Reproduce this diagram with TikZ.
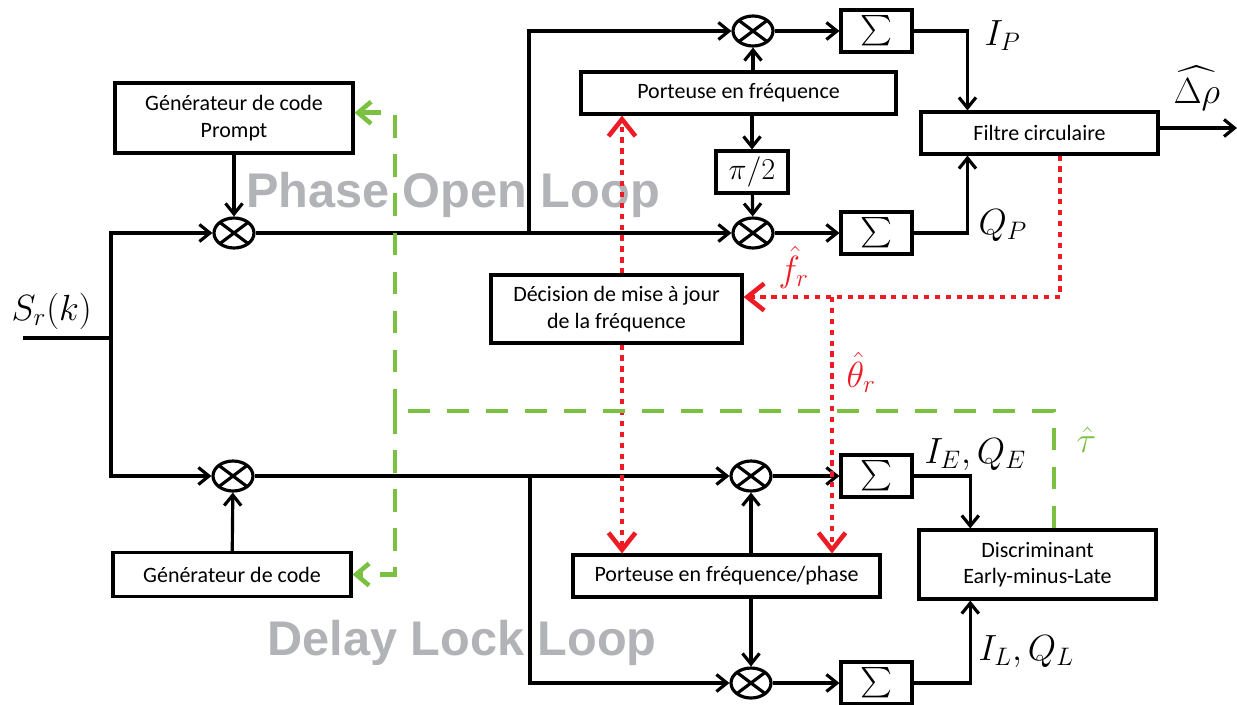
\documentclass[tikz,border=0pt]{standalone}
\usepackage{amsmath}
\usepackage[no-math]{fontspec}
\setmainfont{Carlito}
\newfontfamily\graylabelfont{Liberation Sans}
\usetikzlibrary{shapes.geometric,arrows.meta,positioning,calc}
\definecolor{looplabel}{RGB}{178,179,183}
\definecolor{freqred}{RGB}{237,28,36}
\definecolor{codegreen}{RGB}{122,193,66}
\newcommand{\boxfont}{\fontsize{12.5}{15}\selectfont}

\begin{document}
\begin{tikzpicture}[x=0.02cm, y=-0.02cm, line width=1.8pt,
    >={Straight Barb[length=2.1mm,width=3.4mm]},
    blk/.style={draw, rectangle, align=center, inner sep=0pt, font=\boxfont},
    mixer/.style={draw, ellipse, minimum width=0.8cm, minimum height=0.6cm, inner sep=0pt,
      path picture={\draw (path picture bounding box.north west) -- (path picture bounding box.south east)
        (path picture bounding box.south west) -- (path picture bounding box.north east);}},
    accu/.style={draw, rectangle, minimum width=1.42cm, minimum height=0.84cm, inner sep=0pt,
      font=\fontsize{18}{20}\selectfont},
    fbred/.style={freqred, line width=2.6pt, dash pattern=on 3pt off 3.2pt,
      -{Straight Barb[length=3.4mm,width=5.4mm]}},
    fbgreen/.style={codegreen, line width=2.6pt, dash pattern=on 12.8pt off 9.4pt},
    greentip/.style={-{Straight Barb[length=2.6mm,width=4.4mm]}},
    mlabel/.style={anchor=base west, inner sep=0pt, font=\fontsize{20}{24}\selectfont},
    looplbl/.style={anchor=base, inner sep=0pt, text=looplabel,
      font=\graylabelfont\bfseries\fontsize{27.7}{30}\selectfont}]
  \path[use as bounding box] (0,0) rectangle (1237,704);

  % Noms des boucles (en fond)
  \node[looplbl] (lblPOL) at (453,207) {Phase Open Loop};
  \node[looplbl] (lblDLL) at (462,655) {Delay Lock Loop};

  % Blocs
  \node[blk, minimum width=4.76cm, minimum height=1.4cm] (genP) at (234,118) {Générateur de code\\Prompt};
  \node[blk, minimum width=4.76cm, minimum height=0.88cm] (genD) at (232,574.5) {Générateur de code};
  \node[blk, minimum width=6.3cm, minimum height=0.84cm] (carrF) at (738.5,93) {Porteuse en fréquence};
  \node[blk, minimum width=1.44cm, minimum height=0.84cm, font=\fontsize{17}{20}\selectfont] (halfpi) at (752,172) {$\pi/2$};
  \node[blk, minimum width=5.02cm, minimum height=1.36cm] (decis) at (616.5,309) {Décision de mise à jour\\de la fréquence};
  \node[blk, minimum width=6.14cm, minimum height=0.84cm] (carrP) at (726.5,576) {Porteuse en fréquence/phase};
  \node[blk, minimum width=4.74cm, minimum height=0.84cm] (filt) at (1039.5,133) {Filtre circulaire};
  \node[blk, minimum width=4.74cm, minimum height=1.38cm] (discr) at (1037.5,564.5) {Discriminant\\Early-minus-Late};

  % Multiplieurs
  \node[mixer] (mulA) at (234,233) {};
  \node[mixer] (mulB) at (233,476) {};
  \node[mixer] (mulI) at (753,31) {};
  \node[mixer] (mulQ) at (753,233) {};
  \node[mixer] (mulE) at (751,476) {};
  \node[mixer] (mulL) at (751,683) {};

  % Integrateurs
  \node[accu] (sumI) at (876.5,31) {$\sum$};
  \node[accu] (sumQ) at (876.5,233) {$\sum$};
  \node[accu] (sumE) at (876.5,476) {$\sum$};
  \node[accu] (sumL) at (876.5,683) {$\sum$};

  % Points de passage
  \coordinate (sin) at (23,338);
  \coordinate (split) at (111,338);
  \coordinate (tapP) at (529,233);
  \coordinate (tapD) at (530,476);
  \coordinate (fcol) at (622,309);
  \coordinate (fback) at (1060,297);
  \coordinate (tcol) at (832,297);
  \coordinate (gleft) at (395,411);
  \coordinate (gright) at (1054,411);
  \coordinate (rhoout) at (1237,128);

  % Liaisons
  \draw (sin) -- (split);
  \draw[->] (split) |- (mulA);
  \draw[->] (split) |- (mulB);
  \draw[->] (genP) -- (mulA);
  \draw[->] (genD) -- (mulB);
  \draw[->] (mulA) -- (mulQ);
  \draw[->] (tapP) |- (mulI);
  \draw[->] (mulB) -- (mulE);
  \draw[->] (tapD) |- (mulL);
  \draw[->] (carrF.north -| mulI) -- (mulI);
  \draw[->] (carrF.south -| halfpi) -- (halfpi);
  \draw[->] (halfpi) -- (mulQ);
  \draw[->] (carrP.north -| mulE) -- (mulE);
  \draw[->] (carrP.south -| mulL) -- (mulL);
  \foreach \m/\s in {mulI/sumI, mulQ/sumQ, mulE/sumE, mulL/sumL}
    \draw[->] (\m) -- (\s);
  \draw[->] (sumI) -| ($(filt.north west)!0.2!(filt.north east)$);
  \draw[->] (sumQ) -| ($(filt.south west)!0.2!(filt.south east)$);
  \draw[->] (sumE) -| ($(discr.north west)!0.22!(discr.north east)$);
  \draw[->] (sumL) -| ($(discr.south west)!0.22!(discr.south east)$);
  \draw[->] (filt.east |- rhoout) -- (rhoout);

  % Retours frequence / phase
  \draw[fbred] (decis.north -| fcol) -- (carrF.south -| fcol);
  \draw[fbred] (decis.south -| fcol) -- (carrP.north -| fcol);
  \draw[fbred] (filt.south -| fback) |- (decis.east |- fback);
  \draw[fbred] (tcol) -- (carrP.north -| tcol);

  % Retour code
  \draw[fbgreen] (discr.north -| gright) -- (gright) -- (gleft);
  \draw[fbgreen, greentip] (gleft) |- ([yshift=3pt]genP.east);
  \draw[fbgreen, greentip] (gleft) |- (genD.east);

  % Etiquettes
  \node[mlabel, font=\fontsize{22}{26}\selectfont] (lblSr) at (10,320) {$S_r(k)$};
  \node[mlabel] (lblIP) at (983,45) {$I_P$};
  \node[mlabel] (lblQP) at (977,234) {$Q_P$};
  \node[mlabel] (lblrho) at (1172,103) {$\widehat{\Delta\rho}$};
  \node[mlabel, text=freqred] (lblf) at (777,281) {$\hat{f}_r$};
  \node[mlabel, text=freqred] (lbltheta) at (845,387) {$\hat{\theta}_r$};
  \node[mlabel, text=codegreen] (lbltau) at (1075,452) {$\hat{\tau}$};
  \node[mlabel] (lblE) at (923,463) {$I_E,Q_E$};
  \node[mlabel] (lblL) at (977,660) {$I_L,Q_L$};
\end{tikzpicture}
\end{document}
